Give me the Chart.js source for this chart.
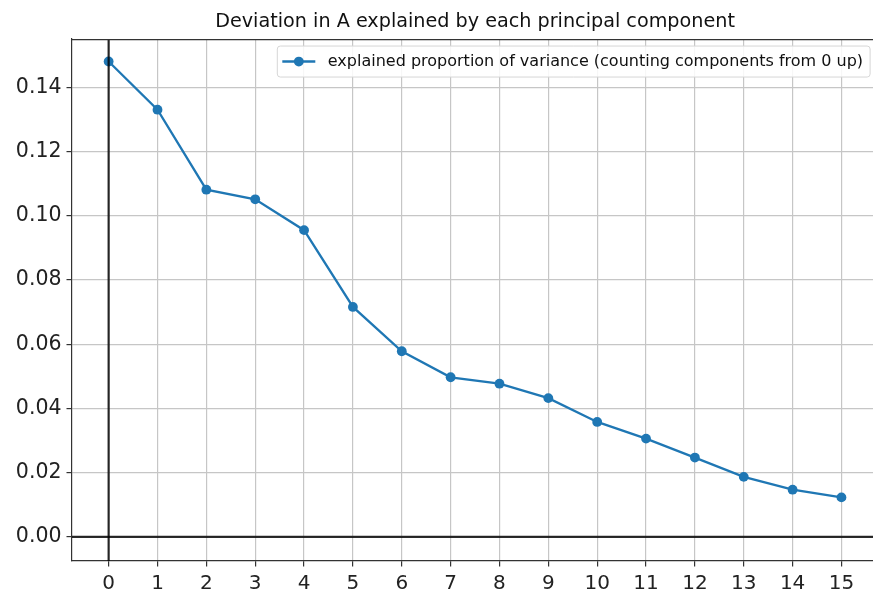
<!DOCTYPE html>
<html>
<head>
<meta charset="utf-8">
<script src="https://cdn.jsdelivr.net/npm/chart.js@4/dist/chart.umd.min.js"></script>
<style>
html, body { margin: 0; padding: 0; overflow: hidden; background: #fff; }
#wrap { width: 883px; height: 593px; position: relative; }
</style>
</head>
<body>
<div id="wrap"><canvas id="c"></canvas></div>
<script>
const chartTitle = 'Deviation in A explained by each principal component';
const seriesLabel = 'explained proportion of variance (counting components from 0 up)';
const components = [0, 1, 2, 3, 4, 5, 6, 7, 8, 9, 10, 11, 12, 13, 14, 15];
const variance = [0.1480, 0.1330, 0.1081, 0.1051, 0.0955, 0.0716, 0.0578, 0.0497,
                  0.0477, 0.0432, 0.0358, 0.0306, 0.0247, 0.0187, 0.0147, 0.0123];
const xTicks = [0, 1, 2, 3, 4, 5, 6, 7, 8, 9, 10, 11, 12, 13, 14, 15];
const yTicks = [0.00, 0.02, 0.04, 0.06, 0.08, 0.10, 0.12, 0.14];

const lineColor = '#1f77b4';
const FONT = '"DejaVu Sans", sans-serif';

const frameAndZero = {
  id: 'frameAndZero',
  afterLayout(chart) {
    // centre the title over the axes, like matplotlib
    const t = chart.titleBlock;
    if (t) { t.left = chart.chartArea.left; t.right = chart.chartArea.right; }
  },
  afterDatasetsDraw(chart) {
    const ctx = chart.ctx, a = chart.chartArea;
    const xs = chart.scales.x, ys = chart.scales.y;
    ctx.save();
    ctx.strokeStyle = 'rgba(0,0,0,0.82)';
    ctx.lineWidth = 2.2;
    const x0 = xs.getPixelForValue(0), y0 = ys.getPixelForValue(0);
    ctx.beginPath(); ctx.moveTo(a.left, y0); ctx.lineTo(a.right, y0); ctx.stroke();
    ctx.beginPath(); ctx.moveTo(x0, a.top); ctx.lineTo(x0, a.bottom); ctx.stroke();
    ctx.strokeStyle = '#333';
    ctx.lineWidth = 1.2;
    ctx.beginPath(); ctx.moveTo(a.left, a.top + 0.5); ctx.lineTo(a.right, a.top + 0.5); ctx.stroke();
    ctx.restore();
  },
  afterDraw(chart) {
    const ctx = chart.ctx, a = chart.chartArea;
    ctx.save();
    ctx.font = '16px ' + FONT;
    const tw = ctx.measureText(seriesLabel).width;
    const right = a.right - 8;
    const top = a.top + 7;
    const h = 31;
    const textEnd = right - 7;
    const textStart = textEnd - tw;
    const lineEnd = textStart - 12.5;
    const lineStart = lineEnd - 33;
    const left = lineStart - 5;
    const r = 3;
    ctx.beginPath();
    ctx.moveTo(left + r, top);
    ctx.lineTo(right - r, top); ctx.arcTo(right, top, right, top + r, r);
    ctx.lineTo(right, top + h - r); ctx.arcTo(right, top + h, right - r, top + h, r);
    ctx.lineTo(left + r, top + h); ctx.arcTo(left, top + h, left, top + h - r, r);
    ctx.lineTo(left, top + r); ctx.arcTo(left, top, left + r, top, r);
    ctx.closePath();
    ctx.fillStyle = 'rgba(255,255,255,0.85)';
    ctx.fill();
    ctx.strokeStyle = '#d6d6d6';
    ctx.lineWidth = 1;
    ctx.stroke();
    const cy = top + h / 2;
    ctx.strokeStyle = lineColor;
    ctx.lineWidth = 2.4;
    ctx.beginPath(); ctx.moveTo(lineStart, cy); ctx.lineTo(lineEnd, cy); ctx.stroke();
    ctx.fillStyle = lineColor;
    ctx.beginPath(); ctx.arc((lineStart + lineEnd) / 2, cy, 4.9, 0, Math.PI * 2); ctx.fill();
    ctx.fillStyle = '#111';
    ctx.textBaseline = 'middle';
    ctx.textAlign = 'left';
    ctx.fillText(seriesLabel, textStart, cy);
    ctx.restore();
  }
};

new Chart(document.getElementById('c'), {
  type: 'line',
  data: {
    datasets: [{
      label: seriesLabel,
      data: components.map((c, i) => ({ x: c, y: variance[i] })),
      borderColor: lineColor,
      backgroundColor: lineColor,
      borderWidth: 2.3,
      pointRadius: 4.9,
      pointHoverRadius: 4.9,
      pointBorderWidth: 0,
      pointBackgroundColor: lineColor,
      tension: 0,
      fill: false
    }]
  },
  options: {
    responsive: true,
    maintainAspectRatio: false,
    animation: false,
    events: [],
    layout: { padding: { left: 0, right: 2, top: 0, bottom: 0 } },
    plugins: {
      legend: { display: false },
      tooltip: { enabled: false },
      title: {
        display: true,
        text: chartTitle,
        color: '#111',
        font: { family: FONT, size: 19.2, weight: 'normal', lineHeight: 1.2 },
        padding: { top: 10, bottom: 6 }
      }
    },
    scales: {
      x: {
        type: 'linear',
        min: -0.75,
        max: 15.75,
        afterBuildTicks: axis => { axis.ticks = xTicks.map(v => ({ value: v })); },
        afterFit: s => { s.height = 32; },
        ticks: {
          color: '#222',
          font: { family: FONT, size: 20 },
          padding: 5,
          maxRotation: 0,
          autoSkip: false,
          callback: v => String(v)
        },
        grid: {
          color: '#c6c6c6',
          lineWidth: 1.2,
          drawTicks: true,
          tickLength: 5.5,
          tickColor: '#333',
          tickWidth: 1.2
        },
        border: { display: true, color: '#333', width: 1.2 }
      },
      y: {
        type: 'linear',
        min: -0.0075,
        max: 0.1550,
        afterBuildTicks: axis => { axis.ticks = yTicks.map(v => ({ value: v })); },
        afterFit: s => { s.width = 72; },
        ticks: {
          color: '#222',
          font: { family: FONT, size: 20.5 },
          padding: 5,
          autoSkip: false,
          callback: v => Number(v).toFixed(2)
        },
        grid: {
          color: '#c6c6c6',
          lineWidth: 1.2,
          drawTicks: true,
          tickLength: 5.5,
          tickColor: '#333',
          tickWidth: 1.2
        },
        border: { display: true, color: '#333', width: 1.2 }
      }
    }
  },
  plugins: [frameAndZero]
});
</script>
</body>
</html>
